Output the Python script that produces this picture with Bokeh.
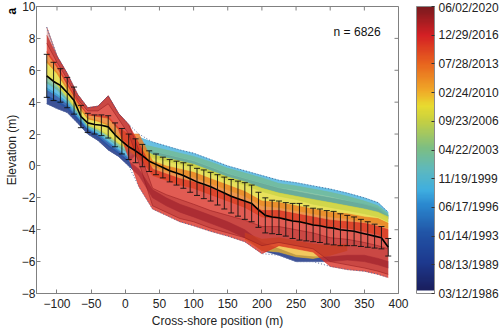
from datetime import datetime
from bokeh.plotting import figure
from bokeh.models import (Range1d, FixedTicker, ColorBar, LinearColorMapper,
                          Whisker, TeeHead, ColumnDataSource, Label)
from bokeh.embed import file_html
from bokeh.resources import INLINE

# ---------------- data ----------------
# mean profile and standard deviation (every 10 m)
XM = [-115, -105, -95, -85, -75, -65, -55, -45, -35, -25, -15, -5, 5, 15, 25, 35, 45, 55, 65, 75,
      85, 95, 105, 115, 125, 135, 145, 155, 165, 175, 185, 195, 205, 215, 225, 235, 245, 255, 265,
      275, 285, 295, 305, 315, 325, 335, 345, 355, 365, 375, 385]
MEAN = [5.65, 5.3, 5.05, 4.6, 4.1, 3.1, 2.7, 2.6, 2.55, 2.45, 1.95, 1.55, 1.2, 0.95, 0.65, 0.3, 0.1,
        -0.1, -0.3, -0.45, -0.6, -0.8, -1.0, -1.15, -1.3, -1.5, -1.7, -1.9, -2.05, -2.2, -2.35,
        -2.75, -3.1, -3.2, -3.25, -3.35, -3.45, -3.5, -3.6, -3.7, -3.75, -3.85, -3.9, -4.0, -4.05,
        -4.1, -4.2, -4.3, -4.4, -4.5, -5.1]
STD = [1.35, 1.2, 1.05, 0.95, 0.85, 0.7, 0.6, 0.6, 0.65, 0.7, 0.75, 0.8, 0.8, 0.75, 0.7, 0.65, 0.65,
       0.65, 0.7, 0.75, 0.8, 0.85, 0.85, 0.9, 0.9, 0.95, 1.0, 1.05, 1.1, 1.15, 1.15, 1.1, 1.1, 1.05,
       1.05, 1.05, 1.1, 1.15, 1.1, 1.05, 1.05, 1.05, 1.05, 1.0, 0.95, 0.9, 0.85, 0.8, 0.75, 0.7, 0.55]

# envelopes of the profile groups (by survey period)
XB = [-115, -100, -85, -70, -55, -40, -25, -10, 5, 20, 40, 60, 80, 100, 125, 150, 175, 200, 225,
      250, 275, 300, 325, 350, 370, 385]
BLUE1_LO = [3.9, 3.6, 3.35, 2.7, 2.0, 1.6, 1.0, 0.6, 0.0, -0.6, -2.0, -2.5, -2.9, -3.2, -3.6, -4.0,
            -4.5, -5.3, -5.6, -6.0, -6.0, -6.0, -5.9, -6.0, -6.2, -6.4]
BLUE1_HI = [4.4, 4.1, 3.7, 3.0, 2.25, 1.85, 1.3, 0.85, 0.3, -0.2, -1.5, -2.0, -2.4, -2.7, -3.1, -3.5,
            -4.0, -4.8, -5.2, -5.6, -5.7, -5.7, -5.6, -5.6, -5.8, -6.0]
BLUE2_LO = [4.3, 4.0, 3.6, 2.9, 2.2, 1.8, 1.25, 0.8, 0.25, 0.9, 0.6, 0.4, 0.2, 0.0, -0.4, -0.8, -1.1,
            -1.4, -1.7, -1.9, -2.1, -2.3, -2.5, -2.7, -2.9, -3.3]
BLUE2_HI = [4.9, 4.5, 4.0, 3.2, 2.4, 2.05, 1.55, 1.05, 0.55, 1.2, 0.9, 0.7, 0.5, 0.3, -0.1, -0.5,
            -0.8, -1.1, -1.4, -1.6, -1.8, -2.0, -2.2, -2.4, -2.6, -3.1]
CYAN_LO = [4.8, 4.4, 3.9, 3.1, 2.35, 2.0, 1.5, 1.0, 0.5, 1.1, 0.95, 0.75, 0.55, 0.35, -0.05, -0.45,
           -0.75, -1.05, -1.35, -1.5, -1.7, -1.9, -2.15, -2.4, -2.65, -3.15]
CYAN_HI = [5.3, 4.9, 4.2, 3.35, 2.5, 2.2, 1.75, 1.25, 0.85, 1.8, 1.5, 1.25, 1.0, 0.8, 0.4, 0.0, -0.3,
           -0.6, -0.9, -1.05, -1.25, -1.45, -1.7, -2.0, -2.3, -2.9]
GREEN_LO = [5.2, 4.8, 4.1, 3.3, 2.45, 2.15, 1.7, 1.2, 0.8, 0.8, 0.5, 0.3, 0.1, -0.1, -0.5, -0.9, -1.2,
            -1.6, -1.9, -2.1, -2.4, -2.6, -2.8, -3.0, -3.2, -3.5]
GREEN_HI = [5.7, 5.2, 4.4, 3.5, 2.6, 2.35, 1.95, 1.45, 1.1, 1.4, 1.2, 1.0, 0.8, 0.6, 0.25, -0.15,
            -0.45, -0.75, -1.1, -1.25, -1.45, -1.65, -1.9, -2.2, -2.5, -3.0]
YELLOW_LO = [5.6, 5.1, 4.3, 3.45, 2.55, 2.3, 1.9, 1.4, 1.05, 0.4, 0.0, -0.3, -0.5, -0.7, -1.1, -1.5,
             -1.9, -2.5, -2.6, -2.8, -3.0, -3.2, -3.3, -3.5, -3.6, -3.9]
YELLOW_HI = [6.6, 5.9, 4.9, 3.85, 3.0, 2.85, 2.6, 1.9, 1.5, 1.2, 0.7, 0.5, 0.3, 0.1, -0.3, -0.7, -1.0,
             -1.4, -1.7, -1.9, -2.1, -2.3, -2.5, -2.7, -2.9, -3.2]
ORANGE_LO = [6.5, 5.8, 4.8, 3.8, 2.95, 2.8, 2.55, 1.85, 1.4, 0.6, -0.6, -0.9, -1.2, -1.4, -1.8, -2.2,
             -2.6, -3.2, -3.3, -3.5, -3.7, -3.8, -3.9, -4.1, -4.3, -4.6]
ORANGE_HI = [7.2, 6.3, 5.2, 4.1, 3.25, 3.15, 3.1, 2.4, 2.0, 2.0, 0.3, 0.0, -0.2, -0.4, -0.8, -1.2,
             -1.6, -2.2, -2.3, -2.5, -2.7, -2.9, -3.0, -3.2, -3.3, -3.6]
RED_LO = [7.1, 6.2, 5.1, 4.0, 3.2, 3.1, 3.0, 2.3, 0.5, -1.3, -2.7, -3.1, -3.5, -3.75, -4.1, -4.4,
          -4.75, -5.5, -5.0, -5.2, -5.4, -6.3, -6.5, -6.6, -6.8, -7.0]
RED_HI = [8.2, 6.9, 5.8, 4.5, 3.65, 3.75, 4.4, 3.3, 2.6, 1.4, -0.2, -0.5, -0.8, -1.0, -1.4, -1.8,
          -2.2, -2.8, -2.8, -3.0, -3.2, -3.4, -3.5, -3.6, -3.8, -4.0]
DKRED_LO = [7.7, 6.5, 5.45, 4.2, 3.45, 3.45, 3.9, 2.95, 2.0, 0.2, -2.5, -2.9, -3.3, -3.5, -3.9, -4.2,
            -4.5, -5.0, -4.8, -5.0, -5.2, -6.0, -6.2, -6.4, -6.6, -6.8]
DKRED_HI = [8.7, 6.9, 5.8, 4.5, 3.65, 3.75, 4.4, 3.3, 2.6, 1.0, -1.4, -1.8, -2.1, -2.4, -2.8, -3.1,
            -3.4, -3.8, -3.8, -4.0, -4.2, -4.5, -4.6, -4.8, -5.0, -5.2]
# low-lying mid-2000s profiles offshore
YLOW_X = [175, 200, 225, 250, 275, 300, 325]
YLOW_LO = [-4.6, -5.3, -5.4, -5.7, -5.8, -5.6, -5.3]
YLOW_HI = [-4.2, -4.6, -4.5, -4.7, -4.9, -5.0, -4.9]

N_PROFILES = 6826
PANEL = "a"
X_TICKS = [-100, -50, 0, 50, 100, 150, 200, 250, 300, 350, 400]
X_TICK_LABELS = ["\u2212100", "\u221250", "0", "50", "100", "150", "200", "250", "300", "350", "400"]
Y_TICKS = [-8, -6, -4, -2, 0, 2, 4, 6, 8, 10]
Y_TICK_LABELS = ["\u22128", "\u22126", "\u22124", "\u22122", "0", "2", "4", "6", "8", "10"]
CB_LABELS = ["03/12/1986", "08/13/1989", "01/14/1993", "06/17/1996", "11/19/1999", "04/22/2003",
             "09/23/2006", "02/24/2010", "07/28/2013", "12/29/2016", "06/02/2020"]

# ---------------- colormap ----------------
STOPS = [(0.0, "#1a1f5e"), (0.1, "#1d3a8f"), (0.2, "#2154a6"), (0.3, "#2a88cf"), (0.35, "#3eaee0"),
         (0.42, "#5cb8c0"), (0.5, "#7cbe84"), (0.6, "#c8d040"), (0.65, "#e8dc30"), (0.7, "#f0ac28"),
         (0.8, "#e8641e"), (0.9, "#d42024"), (1.0, "#7a1a1e")]


def hex2rgb(h):
    return tuple(int(h[i:i + 2], 16) for i in (1, 3, 5))


def cmap(f):
    f = min(max(f, 0.0), 1.0)
    for (f0, c0), (f1, c1) in zip(STOPS[:-1], STOPS[1:]):
        if f <= f1:
            t = (f - f0) / (f1 - f0) if f1 > f0 else 0
            a, b = hex2rgb(c0), hex2rgb(c1)
            return "#%02x%02x%02x" % tuple(int(round(a[k] + (b[k] - a[k]) * t)) for k in range(3))
    return STOPS[-1][1]


PALETTE = ["#ffffff"] * 3 + [cmap(i / 252) for i in range(253)]

FONT = "Liberation Sans"
W, H = 500, 330
LEFT, TOP, BOTTOM, RIGHT = 36, 6, 37, 102
FRAME_W, FRAME_H = W - LEFT - RIGHT, H - TOP - BOTTOM
XR, YR = (-130, 400), (-8, 10)
PX_X = (XR[1] - XR[0]) / FRAME_W   # data units per pixel
PX_Y = (YR[1] - YR[0]) / FRAME_H
TICK = 4  # px

p = figure(width=W, height=H, output_backend="svg", toolbar_location=None,
           x_range=Range1d(*XR), y_range=Range1d(*YR),
           min_border_left=LEFT, min_border_top=TOP, min_border_bottom=BOTTOM,
           min_border_right=RIGHT)
p.xgrid.visible = False
p.ygrid.visible = False
p.outline_line_color = "#808080"
p.background_fill_color = "white"
p.border_fill_color = "white"

layers = [
    (XB, BLUE1_LO, BLUE1_HI, 0.08, 0.85),
    (XB, BLUE2_LO, BLUE2_HI, 0.2, 0.85),
    (XB, CYAN_LO, CYAN_HI, 0.36, 0.8),
    (XB, GREEN_LO, GREEN_HI, 0.48, 0.8),
    (XB, YELLOW_LO, YELLOW_HI, 0.64, 0.8),
    (YLOW_X, YLOW_LO, YLOW_HI, 0.69, 0.75),
    (XB, ORANGE_LO, ORANGE_HI, 0.77, 0.8),
    (XB, RED_LO, RED_HI, 0.88, 0.78),
    (XB, DKRED_LO, DKRED_HI, 0.97, 0.3),
]
for xs, lo, hi, f, a in layers:
    c = cmap(f)
    p.varea(x=xs, y1=lo, y2=hi, fill_color=c, fill_alpha=a)
    p.line(xs, lo, line_color=c, line_width=0.6, line_alpha=0.9)
    p.line(xs, hi, line_color=c, line_width=0.6, line_alpha=0.9)

all_lo = [BLUE1_LO, BLUE2_LO, CYAN_LO, GREEN_LO, YELLOW_LO, ORANGE_LO, RED_LO, DKRED_LO]
all_hi = [BLUE1_HI, BLUE2_HI, CYAN_HI, GREEN_HI, YELLOW_HI, ORANGE_HI, RED_HI, DKRED_HI]
env_lo = [min(v) for v in zip(*all_lo)]
env_hi = [max(v) for v in zip(*all_hi)]
p.line(XB, env_hi, line_color="#5b6ea0", line_width=1, line_dash="1 2")
p.line(XB, env_lo, line_color="#5b6ea0", line_width=1, line_dash="1 2")

src = ColumnDataSource(dict(x=XM, lo=[m - s for m, s in zip(MEAN, STD)],
                            hi=[m + s for m, s in zip(MEAN, STD)]))
wh = Whisker(source=src, base="x", lower="lo", upper="hi", dimension="height",
             line_color="#111111", line_width=0.9, level="overlay",
             upper_head=TeeHead(size=6, line_color="#111111", line_width=0.9),
             lower_head=TeeHead(size=6, line_color="#111111", line_width=0.9))
p.add_layout(wh)
mean_r = p.line(XM, MEAN, line_color="black", line_width=1.6)
mean_r.level = "overlay"

# inward ticks on top and right edges (box)
p.segment(x0=X_TICKS, y0=[YR[1]] * len(X_TICKS), x1=X_TICKS,
          y1=[YR[1] - TICK * PX_Y] * len(X_TICKS), line_color="#808080", line_width=1)
p.segment(x0=[XR[1]] * len(Y_TICKS), y0=Y_TICKS, x1=[XR[1] - TICK * PX_X] * len(Y_TICKS),
          y1=Y_TICKS, line_color="#808080", line_width=1)

p.add_layout(Label(x=305, y=8.43, text="n = %d" % N_PROFILES, text_font=FONT,
                   text_font_size="12px", text_baseline="middle", text_color="#111"))


def style_axis(ax, ticks, labels):
    ax.ticker = FixedTicker(ticks=ticks)
    ax.axis_line_color = "#808080"
    ax.major_tick_line_color = "#808080"
    ax.major_tick_in = TICK
    ax.major_tick_out = 0
    ax.minor_tick_line_color = None
    ax.major_label_text_font = FONT
    ax.major_label_text_font_size = "12px"
    ax.major_label_text_color = "#222"
    ax.axis_label_text_font = FONT
    ax.axis_label_text_font_size = "12px"
    ax.axis_label_text_font_style = "normal"
    ax.axis_label_text_color = "#222"
    ax.major_label_overrides = {t: l for t, l in zip(ticks, labels)}


xa = p.xaxis[0]
style_axis(xa, X_TICKS, X_TICK_LABELS)
xa.axis_label = "Cross-shore position (m)"
xa.major_label_standoff = 5
xa.axis_label_standoff = 3
ya = p.yaxis[0]
style_axis(ya, Y_TICKS, Y_TICK_LABELS)
ya.axis_label = "Elevation (m)"
ya.major_label_standoff = 1
ya.axis_label_standoff = 0

dates = [datetime.strptime(s, "%m/%d/%Y") for s in CB_LABELS]
tick_days = [(d - dates[0]).days for d in dates]
mapper = LinearColorMapper(palette=PALETTE, low=tick_days[0], high=tick_days[-1])
cb = ColorBar(color_mapper=mapper, ticker=FixedTicker(ticks=tick_days),
              major_label_overrides={t: l for t, l in zip(tick_days, CB_LABELS)},
              width=18, height=FRAME_H, padding=0, margin=0, label_standoff=4,
              location=(FRAME_W + 18, 0),
              major_label_text_font=FONT, major_label_text_font_size="12px",
              major_label_text_color="#222",
              major_tick_line_color="#333", major_tick_in=3, major_tick_out=0,
              minor_tick_line_color=None, bar_line_color="#8a8a8a",
              border_line_color=None, background_fill_alpha=0)
p.add_layout(cb)

# panel letter, drawn as the title of an empty (transparent) colour-bar holder left of the frame
letter = ColorBar(color_mapper=mapper, ticker=FixedTicker(ticks=[]), title=PANEL,
                  title_text_font=FONT, title_text_font_size="12px",
                  title_text_font_style="bold", title_text_color="black", title_standoff=0,
                  width=1, height=1, padding=0, margin=0, location=(-34, FRAME_H - 8),
                  scale_alpha=0, bar_line_color=None, major_tick_line_color=None,
                  minor_tick_line_color=None, border_line_color=None,
                  background_fill_alpha=0)
p.add_layout(letter)

open("out.html", "w").write(file_html(p, INLINE))
